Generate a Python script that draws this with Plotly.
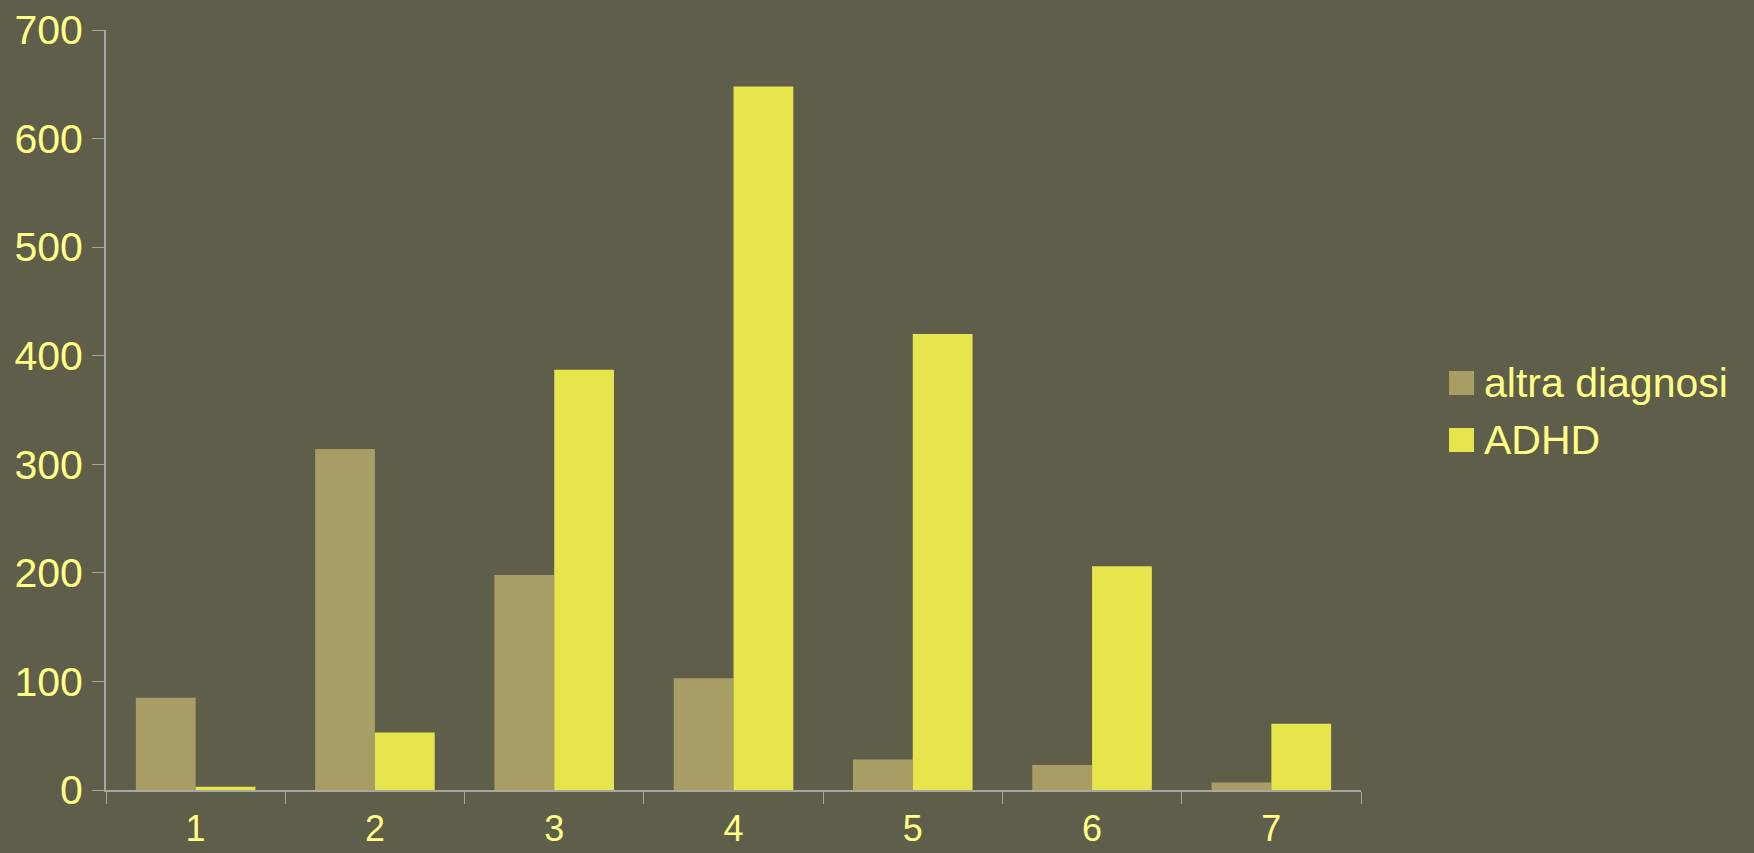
import plotly.graph_objects as go

categories = ["1", "2", "3", "4", "5", "6", "7"]
series_names = ["altra diagnosi", "ADHD"]
altra_diagnosi = [85, 314, 198, 103, 28, 23, 7]
adhd = [3, 53, 387, 648, 420, 206, 61]
y_ticks = [0, 100, 200, 300, 400, 500, 600, 700]

BG = "#5F5E4B"
C_ALTRA = "#A89E65"
C_ADHD = "#E6E54C"
TXT = "#FFFF85"
AXIS = "#A8A8A0"

W, H = 1754, 853
L, R, T, B = 106, 393, 30, 63
pw, ph = W - L - R, H - T - B

def px(x):
    return (x - L) / pw

def py(y):
    return (H - B - y) / ph

fig = go.Figure()
fig.add_trace(go.Bar(x=categories, y=altra_diagnosi, name=series_names[0],
                     marker=dict(color=C_ALTRA, line=dict(width=0)), showlegend=False))
fig.add_trace(go.Bar(x=categories, y=adhd, name=series_names[1],
                     marker=dict(color=C_ADHD, line=dict(width=0)), showlegend=False))

shapes = []
annotations = []
colors = [C_ALTRA, C_ADHD]
for i, name in enumerate(series_names):
    top = 371 + i * 57
    shapes.append(dict(type="rect", xref="paper", yref="paper",
                       x0=px(1449), x1=px(1474), y0=py(top + 24), y1=py(top),
                       fillcolor=colors[i], line=dict(width=0)))
    annotations.append(dict(xref="paper", yref="paper", x=px(1482), y=py(top + 12),
                            xanchor="left", yanchor="middle", text=name, showarrow=False,
                            font=dict(family="Liberation Sans, Arial, sans-serif", size=41, color=TXT)))

fig.update_layout(
    width=W, height=H,
    margin=dict(l=L, r=R, t=T, b=B, pad=0, autoexpand=False),
    paper_bgcolor=BG, plot_bgcolor=BG,
    barmode="group", bargap=0.333, bargroupgap=0,
    shapes=shapes, annotations=annotations,
    showlegend=False,
    xaxis=dict(type="category", tickson="boundaries", ticks="outside", ticklen=12,
               tickcolor=AXIS, tickwidth=1, showline=True, linecolor=AXIS, linewidth=2,
               showgrid=False, zeroline=False, ticklabelstandoff=6, automargin=False,
               tickfont=dict(family="Liberation Sans Narrow, Liberation Sans, Arial, sans-serif",
                             size=36, color=TXT)),
    yaxis=dict(range=[0, 700], tickvals=y_ticks, ticks="outside", ticklen=12,
               tickcolor=AXIS, tickwidth=1, showline=True, linecolor=AXIS, linewidth=2,
               showgrid=False, zeroline=False, ticklabelstandoff=1, automargin=False,
               tickfont=dict(family="Liberation Sans, Arial, sans-serif", size=41, color=TXT)),
)

fig.write_html("out.html")
